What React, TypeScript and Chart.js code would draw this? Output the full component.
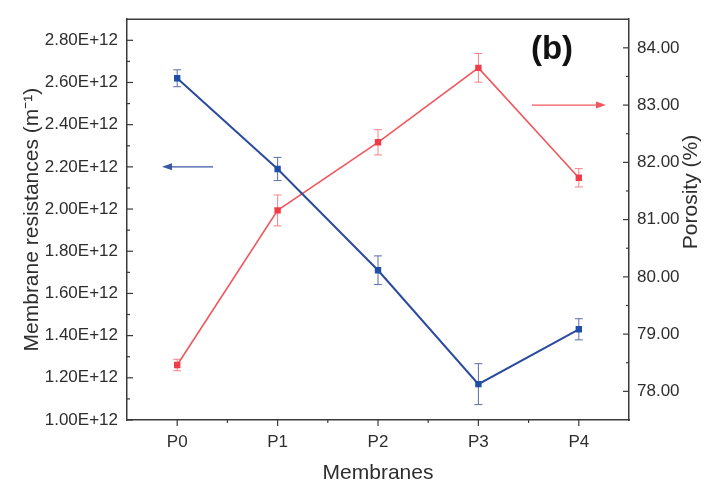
import { useEffect, useRef } from 'react';
import { Chart, registerables } from 'chart.js';

Chart.register(...registerables);

const membranes = ['P0', 'P1', 'P2', 'P3', 'P4'];
const resistance = [2.62e12, 2.19e12, 1.71e12, 1.17e12, 1.43e12];
const resistanceErr = [0.04e12, 0.055e12, 0.068e12, 0.097e12, 0.05e12];
const porosity = [78.46, 81.16, 82.35, 83.65, 81.73];
const porosityErr = [0.1, 0.27, 0.22, 0.25, 0.16];
const leftTicks = [1.0e12, 1.2e12, 1.4e12, 1.6e12, 1.8e12, 2.0e12, 2.2e12, 2.4e12, 2.6e12, 2.8e12];
const rightTicks = [78, 79, 80, 81, 82, 83, 84];
const leftRange = [1.0e12, 2.9e12];
const rightRange = [77.5, 84.5];

const FONT = '"Liberation Sans", Arial, sans-serif';
const BLUE_LINE = '#2b4b9e';
const BLUE_PT = '#1f4ea6';
const BLUE_ERR = '#5d6ca8';
const RED_LINE = '#f0585e';
const RED_PT = '#f03c48';
const RED_ERR = '#f28489';
const AXIS = '#3a3a3a';
const TEXT = '#2e2e2e';

const decor = {
  id: 'decor',
  beforeDatasetsDraw(chart: any) {
    const ctx = chart.ctx as CanvasRenderingContext2D;
    const x = chart.scales.x;
    const bars = (vals: number[], errs: number[], scale: any, color: string) => {
      ctx.save();
      ctx.strokeStyle = color;
      ctx.lineWidth = 1;
      vals.forEach((v, i) => {
        const px = x.getPixelForValue(i);
        const y1 = scale.getPixelForValue(v + errs[i]);
        const y2 = scale.getPixelForValue(v - errs[i]);
        ctx.beginPath();
        ctx.moveTo(px, y1);
        ctx.lineTo(px, y2);
        ctx.moveTo(px - 4, y1);
        ctx.lineTo(px + 4, y1);
        ctx.moveTo(px - 4, y2);
        ctx.lineTo(px + 4, y2);
        ctx.stroke();
      });
      ctx.restore();
    };
    bars(porosity, porosityErr, chart.scales.yR, RED_ERR);
    bars(resistance, resistanceErr, chart.scales.yL, BLUE_ERR);
  },
  afterDraw(chart: any) {
    const ctx = chart.ctx as CanvasRenderingContext2D;
    const { left, right, top, bottom } = chart.chartArea;
    const x = chart.scales.x;
    const yL = chart.scales.yL;
    const yR = chart.scales.yR;
    ctx.save();
    ctx.strokeStyle = AXIS;
    ctx.lineWidth = 1.5;
    // top border
    ctx.beginPath();
    ctx.moveTo(left, top);
    ctx.lineTo(right, top);
    ctx.stroke();
    ctx.lineWidth = 1.2;
    // left ticks (inward)
    const tick = (x1: number, y1: number, x2: number, y2: number) => {
      ctx.beginPath();
      ctx.moveTo(x1, y1);
      ctx.lineTo(x2, y2);
      ctx.stroke();
    };
    leftTicks.forEach((v, i) => {
      const py = yL.getPixelForValue(v);
      tick(left, py, left + 6, py);
      const next = i < leftTicks.length - 1 ? leftTicks[i + 1] : v + (v - leftTicks[i - 1]);
      const mv = (v + next) / 2;
      if (mv < leftRange[1]) {
        const my = yL.getPixelForValue(mv);
        tick(left, my, left + 3, my);
      }
    });
    rightTicks.forEach((v, i) => {
      const py = yR.getPixelForValue(v);
      tick(right, py, right - 6, py);
      const next = i < rightTicks.length - 1 ? rightTicks[i + 1] : v + (v - rightTicks[i - 1]);
      const mv = (v + next) / 2;
      if (mv < rightRange[1]) {
        const my = yR.getPixelForValue(mv);
        tick(right, my, right - 3, my);
      }
    });
    const step = x.getPixelForValue(1) - x.getPixelForValue(0);
    membranes.forEach((_, i) => {
      const px = x.getPixelForValue(i);
      tick(px, bottom, px, bottom + 6);
      if (i < membranes.length - 1) tick(px + step / 2, bottom, px + step / 2, bottom + 3);
    });

    // axis titles
    ctx.fillStyle = TEXT;
    ctx.font = `21px ${FONT}`;
    ctx.textAlign = 'center';
    ctx.textBaseline = 'alphabetic';
    ctx.save();
    ctx.translate(38, (top + bottom) / 2);
    ctx.rotate(-Math.PI / 2);
    ctx.fillText('Membrane resistances (m⁻¹)', 0, 0);
    ctx.restore();
    ctx.save();
    ctx.translate(697, 192);
    ctx.rotate(-Math.PI / 2);
    ctx.fillText('Porosity (%)', 0, 0);
    ctx.restore();
    ctx.fillText('Membranes', (left + right) / 2, 479);

    // panel label
    ctx.fillStyle = '#111';
    ctx.font = `bold 33px ${FONT}`;
    ctx.textAlign = 'center';
    ctx.textBaseline = 'middle';
    ctx.fillText('(b)', 552, 50);

    // arrows
    const arrow = (x1: number, x2: number, y: number, color: string) => {
      ctx.strokeStyle = color;
      ctx.fillStyle = color;
      ctx.lineWidth = 1.4;
      const dir = Math.sign(x2 - x1);
      ctx.beginPath();
      ctx.moveTo(x1, y);
      ctx.lineTo(x2 - dir * 6, y);
      ctx.stroke();
      ctx.beginPath();
      ctx.moveTo(x2, y);
      ctx.lineTo(x2 - dir * 10, y - 3.5);
      ctx.lineTo(x2 - dir * 10, y + 3.5);
      ctx.closePath();
      ctx.fill();
    };
    arrow(213, 162, yL.getPixelForValue(2.2e12), '#3a58a6');
    arrow(532, 606, yR.getPixelForValue(83), RED_LINE);
    ctx.restore();
  },
};

export default function App() {
  const ref = useRef<HTMLCanvasElement>(null);
  useEffect(() => {
    Chart.defaults.font.family = FONT;
    const chart = new Chart(ref.current!, {
      type: 'line',
      data: {
        labels: membranes,
        datasets: [
          {
            label: 'Membrane resistances',
            data: resistance,
            yAxisID: 'yL',
            borderColor: BLUE_LINE,
            borderWidth: 2,
            pointStyle: 'rect',
            pointRadius: 4.5,
            pointBackgroundColor: BLUE_PT,
            pointBorderWidth: 0,
            tension: 0,
          },
          {
            label: 'Porosity',
            data: porosity,
            yAxisID: 'yR',
            borderColor: RED_LINE,
            borderWidth: 1.6,
            pointStyle: 'rect',
            pointRadius: 4.5,
            pointBackgroundColor: RED_PT,
            pointBorderWidth: 0,
            tension: 0,
          },
        ],
      },
      options: {
        animation: false,
        responsive: true,
        maintainAspectRatio: false,
        layout: { padding: { top: 15.5, left: 0, right: 0, bottom: 0 } },
        plugins: { legend: { display: false }, tooltip: { enabled: false } },
        scales: {
          x: {
            type: 'category',
            offset: true,
            grid: { display: false, drawTicks: false },
            border: { display: true, color: AXIS, width: 1.5 },
            ticks: { color: TEXT, font: { size: 17 }, padding: 12 },
            afterFit: (s: any) => {
              s.height = 63;
            },
          },
          yL: {
            type: 'linear',
            position: 'left',
            min: leftRange[0],
            max: leftRange[1],
            grid: { display: false, drawTicks: false },
            border: { display: true, color: AXIS, width: 1.5 },
            ticks: {
              color: TEXT,
              font: { size: 17 },
              padding: 9,
              callback: (v: any) => (Number(v) / 1e12).toFixed(2) + 'E+12',
            },
            afterBuildTicks: (s: any) => {
              s.ticks = leftTicks.map((v) => ({ value: v }));
            },
            afterFit: (s: any) => {
              s.width = 127;
            },
          },
          yR: {
            type: 'linear',
            position: 'right',
            min: rightRange[0],
            max: rightRange[1],
            grid: { display: false, drawTicks: false },
            border: { display: true, color: AXIS, width: 1.5 },
            ticks: {
              color: TEXT,
              font: { size: 17 },
              padding: 8,
              callback: (v: any) => Number(v).toFixed(2),
            },
            afterBuildTicks: (s: any) => {
              s.ticks = rightTicks.map((v) => ({ value: v }));
            },
            afterFit: (s: any) => {
              s.width = 89;
            },
          },
        },
      },
      plugins: [decor],
    });
    return () => chart.destroy();
  }, []);
  return (
    <div style={{ position: 'absolute', left: 0, top: 0, width: 718, height: 483, background: '#fff' }}>
      <canvas ref={ref} />
    </div>
  );
}
